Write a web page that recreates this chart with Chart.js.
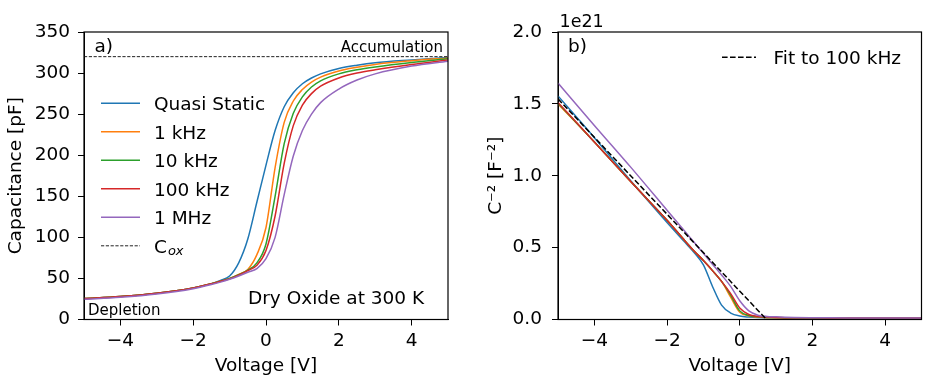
<!DOCTYPE html>
<html>
<head>
<meta charset="utf-8">
<script src="https://cdn.jsdelivr.net/npm/chart.js@4.4.1/dist/chart.umd.min.js"></script>
<style>
  body { margin: 0; background: #fff; width: 925px; height: 381px; overflow: hidden; }
  canvas { position: absolute; top: 0; }
  #cvChart { left: 0; }
  #invChart { left: 460px; }
</style>
</head>
<body>
<canvas id="cvChart" width="460" height="381"></canvas>
<canvas id="invChart" width="465" height="381"></canvas>
<script>
// gate voltage grid [V]
const voltages = [-5, -4, -3, -2, -1.5, -1.25, -1, -0.75, -0.5, -0.25, 0, 0.25, 0.5, 0.75, 1, 1.25, 1.5, 2, 2.5, 3, 4, 5];
const seriesNames = ["Quasi Static", "1 kHz", "10 kHz", "100 kHz", "1 MHz"];
const seriesColors = ["#1f77b4", "#ff7f0e", "#2ca02c", "#d62728", "#9467bd"];

// capacitance [pF]
const capQuasiStatic = [25.5, 28, 32, 38.5, 43.5, 47.5, 53, 69, 98, 143, 188, 230, 259, 276, 287, 294, 299, 305.5, 309.5, 312.5, 316, 319];
const cap1kHz = [25.5, 28, 32, 38.5, 43.5, 46.5, 50, 55, 61, 79, 112, 185, 240, 266, 280, 289, 295, 302.5, 307, 310.5, 315, 318.5];
const cap10kHz = [25.5, 28, 32, 38.5, 43.5, 46.5, 50, 54.5, 60, 69, 92, 150, 214, 251, 271, 283, 290.5, 299, 304, 307.5, 313, 317.5];
const cap100kHz = [25.5, 28, 32, 38.5, 43.5, 46.5, 49.5, 54, 59.5, 66, 84, 126, 190, 236, 261, 275, 284, 294, 300, 304, 310.5, 316];
const cap1MHz = [24.5, 27, 31, 37.5, 42.5, 45.5, 49, 53, 57.5, 62, 74, 100, 152, 199, 230, 250, 264, 280.5, 291.5, 299, 308.5, 314.5];
const coxVoltages = [-5, 5];
const coxValues = [320, 320];

// C^-2 [1e21 F^-2]
const invQuasiStatic = [1.555, 1.265, 0.965, 0.675, 0.535, 0.465, 0.38, 0.23, 0.1, 0.045, 0.024, 0.017, 0.0135, 0.0122, 0.0118, 0.0113, 0.011, 0.0106, 0.0104, 0.0102, 0.01, 0.0098];
const inv1kHz = [1.5, 1.235, 0.96, 0.69, 0.545, 0.475, 0.41, 0.34, 0.265, 0.155, 0.05, 0.026, 0.017, 0.013, 0.0122, 0.0118, 0.0114, 0.0109, 0.0106, 0.0104, 0.0101, 0.0099];
const inv10kHz = [1.505, 1.235, 0.96, 0.69, 0.545, 0.475, 0.41, 0.34, 0.265, 0.17, 0.06, 0.028, 0.019, 0.0145, 0.0132, 0.0123, 0.0118, 0.0111, 0.0108, 0.0106, 0.0102, 0.0099];
const inv100kHz = [1.51, 1.235, 0.96, 0.69, 0.545, 0.475, 0.41, 0.34, 0.265, 0.18, 0.08, 0.035, 0.021, 0.017, 0.0142, 0.0129, 0.0123, 0.0116, 0.0111, 0.0108, 0.0104, 0.01];
const inv1MHz = [1.645, 1.35, 1.06, 0.76, 0.61, 0.535, 0.46, 0.385, 0.31, 0.23, 0.13, 0.06, 0.03, 0.021, 0.0187, 0.0159, 0.0143, 0.0127, 0.0117, 0.0112, 0.0105, 0.0101];
const fitVoltages = [-5, 0.7];
const fitValues = [1.535, 0.01];

const xTicks = [-4, -2, 0, 2, 4];
const capTicks = [0, 50, 100, 150, 200, 250, 300, 350];
const invTicks = [0, 0.5, 1, 1.5, 2];

const FONT = "'DejaVu Sans'";
Chart.defaults.font.family = "DejaVu Sans";
Chart.defaults.color = "#000";

function pts(xs, ys) {
  return xs.map((x, i) => ({ x: x, y: ys[i] }));
}

function curve(i, values) {
  return {
    label: seriesNames[i],
    data: pts(voltages, values),
    borderColor: seriesColors[i],
    borderWidth: 1.5,
    pointRadius: 0,
    cubicInterpolationMode: "monotone",
    fill: false,
    order: 10 - i
  };
}

function txt(ctx, s, x, y, size, align, style) {
  ctx.font = (style || "") + " " + size + "px " + FONT;
  ctx.textAlign = align || "left";
  ctx.textBaseline = "alphabetic";
  ctx.fillStyle = "#000";
  ctx.fillText(s, x, y);
}

const minus = v => (v < 0 ? "\u2212" + Math.abs(v) : String(v));

function scales(yTicks, yFmt, yTitle, yWidth, yTitlePad, yPad) {
  return {
    x: {
      type: "linear", min: -5, max: 5,
      afterBuildTicks: s => { s.ticks = xTicks.map(v => ({ value: v })); },
      afterFit: s => { s.height = 61.5; },
      ticks: { font: { size: 18.5 }, padding: 5, maxRotation: 0, autoSkip: false, callback: v => minus(v) },
      grid: { drawOnChartArea: false, tickLength: 6, tickColor: "#000", tickWidth: 1 },
      border: { display: true, color: "#000", width: 1 },
      title: { display: true, text: "Voltage [V]", font: { size: 18.5 }, padding: { top: 0, bottom: 4 } }
    },
    y: {
      type: "linear", min: yTicks[0], max: yTicks[yTicks.length - 1],
      afterBuildTicks: s => { s.ticks = yTicks.map(v => ({ value: v })); },
      afterFit: s => { s.width = yWidth; },
      ticks: { font: { size: 18.5 }, padding: yPad, autoSkip: false, callback: yFmt },
      grid: { drawOnChartArea: false, tickLength: 6, tickColor: "#000", tickWidth: 1 },
      border: { display: true, color: "#000", width: 1 },
      title: { display: true, text: yTitle, font: { size: 18.5 }, padding: { top: yTitlePad, bottom: 0 } }
    }
  };
}

// box around the axes, like the matplotlib spines
const framePlugin = {
  id: "frame",
  afterDatasetsDraw(chart) {
    const a = chart.chartArea, ctx = chart.ctx;
    ctx.save();
    ctx.strokeStyle = "#000";
    ctx.lineWidth = 1.2;
    ctx.strokeRect(a.left, a.top, a.right - a.left, a.bottom - a.top);
    ctx.restore();
  }
};

// legend placed inside the axes
const boxLegend = {
  id: "boxLegend",
  afterDraw(chart, args, opt) {
    const ctx = chart.ctx;
    ctx.save();
    chart.data.datasets.forEach((ds, i) => {
      const y = opt.y + i * opt.step;
      ctx.strokeStyle = ds.borderColor;
      ctx.lineWidth = ds.borderWidth;
      ctx.setLineDash(ds.borderDash || []);
      ctx.beginPath();
      ctx.moveTo(opt.x0, y);
      ctx.lineTo(opt.x1, y);
      ctx.stroke();
      ctx.setLineDash([]);
      txt(ctx, ds.label, opt.tx, y + 6.7, 18.5);
      if (ds.labelSub) {
        ctx.font = "18.5px " + FONT;
        const w = ctx.measureText(ds.label).width;
        txt(ctx, ds.labelSub, opt.tx + w + 1, y + 9.5, 13, "left", "italic");
      }
    });
    ctx.restore();
  }
};

const cvNotes = {
  id: "cvNotes",
  afterDraw(chart) {
    const ctx = chart.ctx, a = chart.chartArea;
    txt(ctx, "a)", a.left + 10.5, 52, 18.5);
    txt(ctx, "Accumulation", a.right - 5, 52, 15, "right");
    txt(ctx, "Depletion", a.left + 4, 314.5, 15);
    txt(ctx, "Dry Oxide at 300 K", 248, 303.5, 18.5);
  }
};

const invNotes = {
  id: "invNotes",
  afterDraw(chart) {
    const ctx = chart.ctx, a = chart.chartArea;
    txt(ctx, "b)", a.left + 10, 52, 18.5);
    txt(ctx, "1e21", a.left + 1.5, 26.7, 17.5);
  }
};

const cvSets = [
  curve(0, capQuasiStatic),
  curve(1, cap1kHz),
  curve(2, cap10kHz),
  curve(3, cap100kHz),
  curve(4, cap1MHz),
  {
    label: "C", labelSub: "ox",
    data: pts(coxVoltages, coxValues),
    borderColor: "#222", borderWidth: 1, borderDash: [3.2, 1.6],
    pointRadius: 0, fill: false, order: 1
  }
];

new Chart(document.getElementById("cvChart"), {
  type: "line",
  data: { datasets: cvSets },
  options: {
    responsive: false, animation: false, devicePixelRatio: 1,
    layout: { padding: { left: 0, top: 32, right: 12, bottom: 0 } },
    scales: scales(capTicks, v => String(v), "Capacitance [pF]", 84, 5, 8),
    plugins: {
      legend: { display: false }, tooltip: { enabled: false },
      boxLegend: { x0: 101, x1: 140, tx: 154, y: 103.3, step: 28.5 }
    }
  },
  plugins: [framePlugin, boxLegend, cvNotes]
});

const invSets = [
  curve(0, invQuasiStatic),
  curve(1, inv1kHz),
  curve(2, inv10kHz),
  curve(3, inv100kHz),
  curve(4, inv1MHz),
  {
    label: "Fit to 100 kHz",
    data: pts(fitVoltages, fitValues),
    borderColor: "#000", borderWidth: 1.5, borderDash: [5.6, 2.4],
    pointRadius: 0, fill: false, order: 1
  }
];

const fitLegend = {
  id: "fitLegend",
  afterDraw(chart) {
    const ctx = chart.ctx, ds = chart.data.datasets[5];
    ctx.save();
    ctx.strokeStyle = ds.borderColor;
    ctx.lineWidth = ds.borderWidth;
    ctx.setLineDash(ds.borderDash);
    ctx.beginPath();
    ctx.moveTo(262, 57.3);
    ctx.lineTo(296, 57.3);
    ctx.stroke();
    ctx.restore();
    txt(ctx, ds.label, 313.5, 64, 18.5);
  }
};

new Chart(document.getElementById("invChart"), {
  type: "line",
  data: { datasets: invSets },
  options: {
    responsive: false, animation: false, devicePixelRatio: 1,
    layout: { padding: { left: 0, top: 32, right: 3.5, bottom: 0 } },
    scales: scales(invTicks, v => v.toFixed(1), "C\u207B\u00B2 [F\u207B\u00B2]", 98, 25, 10),
    plugins: { legend: { display: false }, tooltip: { enabled: false } }
  },
  plugins: [framePlugin, invNotes, fitLegend]
});
</script>
</body>
</html>
